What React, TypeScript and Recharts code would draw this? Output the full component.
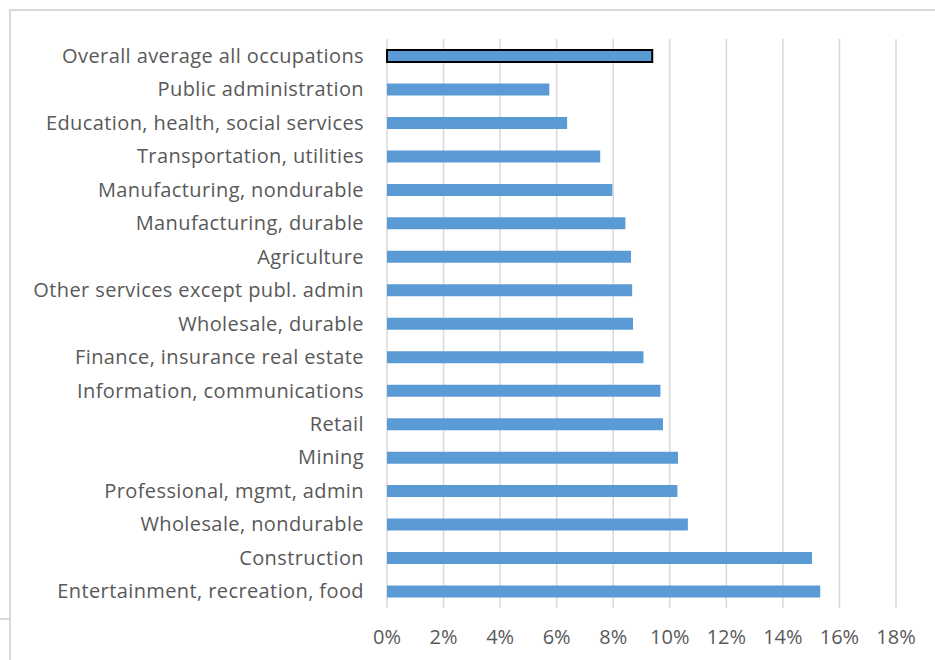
import { BarChart, Bar, XAxis, YAxis, CartesianGrid, Cell } from 'recharts';

const industries = [
  'Overall average all occupations',
  'Public administration',
  'Education, health, social services',
  'Transportation, utilities',
  'Manufacturing, nondurable',
  'Manufacturing, durable',
  'Agriculture',
  'Other services except publ. admin',
  'Wholesale, durable',
  'Finance, insurance real estate',
  'Information, communications',
  'Retail',
  'Mining',
  'Professional, mgmt, admin',
  'Wholesale, nondurable',
  'Construction',
  'Entertainment, recreation, food',
];

const rates = [
  0.0938, 0.0574, 0.0637, 0.0754, 0.0797, 0.0843, 0.0863, 0.0867, 0.087,
  0.0907, 0.0967, 0.0976, 0.1029, 0.1027, 0.1064, 0.1503, 0.1532,
];

const xTicks = [0, 0.02, 0.04, 0.06, 0.08, 0.1, 0.12, 0.14, 0.16, 0.18];

const data = industries.map((name, i) => ({ name, rate: rates[i] }));

const FONT = '"Open Sans", sans-serif';
const TEXT = '#595959';

export default function App() {
  return (
    <div style={{ position: 'absolute', left: 0, top: 0, width: 935, height: 660, background: '#fff', overflow: 'hidden' }}>
      {/* chart frame, cropped at right/bottom */}
      <div style={{ position: 'absolute', left: 9, top: 9, width: 940, height: 660, borderLeft: '2px solid #D9D9D9', borderTop: '2px solid #D9D9D9' }} />
      <div style={{ position: 'absolute', left: 0, top: 618, width: 9, height: 0, borderTop: '2px solid #D9D9D9' }} />
      <div style={{ position: 'absolute', left: 0, top: 0 }}>
        <BarChart
          width={935}
          height={660}
          data={data}
          layout="vertical"
          margin={{ top: 39, right: 39, bottom: 0, left: 0 }}
        >
          <CartesianGrid horizontal={false} stroke="#D9D9D9" strokeWidth={1.5} />
          <XAxis
            type="number"
            domain={[0, 0.18]}
            ticks={xTicks}
            height={52}
            axisLine={false}
            tickLine={false}
            tickSize={0}
            tickMargin={22}
            tickFormatter={(v: number) => `${Math.round(v * 100)}%`}
            tick={{ fill: TEXT, fontSize: 20, fontFamily: FONT }}
          />
          <YAxis
            type="category"
            dataKey="name"
            width={387}
            axisLine={false}
            tickLine={false}
            tickSize={0}
            tickMargin={23}
            interval={0}
            tick={{ fill: TEXT, fontSize: 20, fontFamily: FONT, letterSpacing: 0.4 }}
          />
          <Bar dataKey="rate" fill="#5B9BD5" barSize={12} isAnimationActive={false}>
            {data.map((d, i) => (
              <Cell
                key={d.name}
                fill="#5B9BD5"
                stroke={i === 0 ? '#000000' : 'none'}
                strokeWidth={i === 0 ? 2 : 0}
              />
            ))}
          </Bar>
        </BarChart>
      </div>
    </div>
  );
}
